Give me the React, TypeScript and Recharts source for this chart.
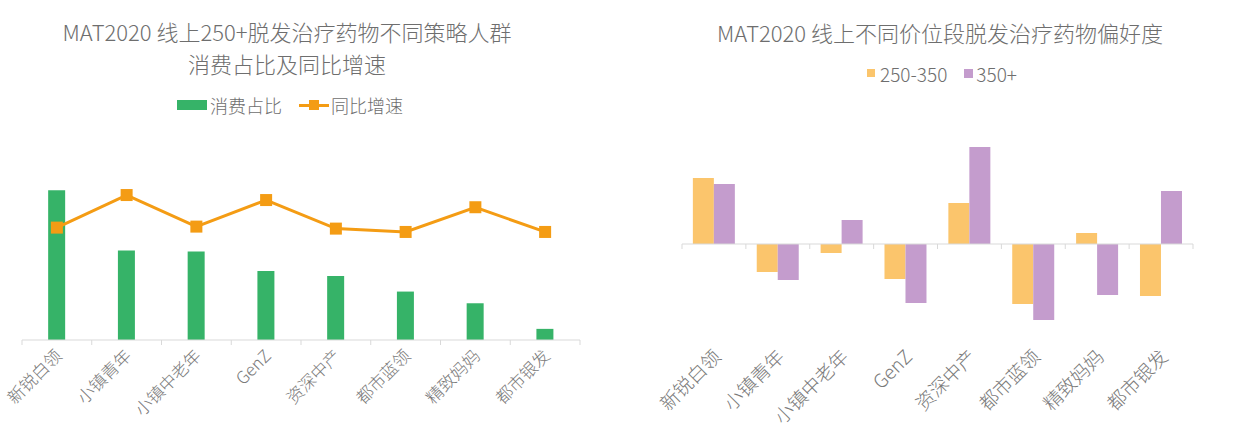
import React from "react";
import { ComposedChart, BarChart, Bar, Line, XAxis, YAxis, ReferenceLine } from "recharts";

const segments = ["新锐白领", "小镇青年", "小镇中老年", "GenZ", "资深中产", "都市蓝领", "精致妈妈", "都市银发"];
// left chart: share of spend (%) and YoY growth (%)
const spendShare = [26.9, 16.1, 15.9, 12.4, 11.5, 8.7, 6.6, 2.0];
const yoyGrowth = [67.3, 86.8, 67.9, 83.8, 66.7, 64.7, 79.5, 64.7];
// right chart: preference index by price band
const pref250to350 = [0.66, -0.28, -0.09, -0.35, 0.41, -0.6, 0.11, -0.52];
const pref350plus = [0.6, -0.36, 0.24, -0.59, 0.97, -0.76, -0.51, 0.53];

const FONT = "'Noto Sans CJK SC', 'Noto Sans', sans-serif";
const TEXT = "#6e6e6e";
const LABEL = "#7a7a7a";
const AXIS = "#d9d9d9";
const GREEN = "#36b368";
const ORANGE = "#f49c14";
const LIGHT_ORANGE = "#fbc56c";
const PURPLE = "#c49ccd";

const L_W = 600;
const L_H = 436;
const L_MARGIN = { top: 173, right: 20, bottom: 0, left: 22 };
const L_AXIS_H = 96;
const L_BAND = (L_W - L_MARGIN.left - L_MARGIN.right) / segments.length;

const R_W = 604;
const R_H = 436;
const R_MARGIN = { top: 124, right: 51, bottom: 0, left: 42 };
const R_AXIS_H = 92;
const R_BAND = (R_W - R_MARGIN.left - R_MARGIN.right) / segments.length;
const R_DOMAIN: [number, number] = [-1, 1.2];
const R_PLOT_H = R_H - R_MARGIN.top - R_MARGIN.bottom - R_AXIS_H;
const R_ZERO_UP = (R_PLOT_H * (0 - R_DOMAIN[0])) / (R_DOMAIN[1] - R_DOMAIN[0]);

const leftData = segments.map((name, i) => ({ name, share: spendShare[i], growth: yoyGrowth[i] }));
const rightData = segments.map((name, i) => ({ name, low: pref250to350[i], high: pref350plus[i] }));

interface TickProps {
  x?: number;
  y?: number;
  index?: number;
  payload?: { value: string };
  band: number;
  markUp: number;
  fontSize: number;
  dx: number;
  dy: number;
}

function SegmentTick({ x = 0, y = 0, index = 0, payload, band, markUp, fontSize, dx, dy }: TickProps) {
  const last = index === segments.length - 1;
  const my = y - markUp;
  const tx = x + dx;
  const ty = y + dy;
  return (
    <g>
      <line x1={x - band / 2} x2={x - band / 2} y1={my} y2={my + 5} stroke={AXIS} />
      {last && <line x1={x + band / 2} x2={x + band / 2} y1={my} y2={my + 5} stroke={AXIS} />}
      <text
        x={tx}
        y={ty}
        transform={`rotate(-45 ${tx} ${ty})`}
        textAnchor="end"
        fontSize={fontSize}
        fontFamily={FONT}
        fontWeight={300}
        fill={LABEL}
      >
        {payload?.value}
      </text>
    </g>
  );
}

function SquareDot(props: { cx?: number; cy?: number; index?: number }) {
  const { cx = 0, cy = 0, index } = props;
  return <rect key={`dot-${index}`} x={cx - 6} y={cy - 6} width={12} height={12} fill={ORANGE} />;
}

const titleStyle: React.CSSProperties = {
  position: "absolute",
  textAlign: "center",
  fontFamily: FONT,
  fontSize: 22,
  fontWeight: 300,
  lineHeight: "32px",
  color: TEXT,
};

const legendRow: React.CSSProperties = {
  position: "absolute",
  display: "flex",
  alignItems: "center",
  justifyContent: "center",
  height: 24,
  fontFamily: FONT,
  fontSize: 18,
  fontWeight: 300,
  color: TEXT,
};

export default function App() {
  return (
    <div style={{ position: "absolute", left: 0, top: 0, width: 1244, height: 436, background: "#fff", overflow: "hidden" }}>
      {/* left: spend share + growth */}
      <div style={{ position: "absolute", left: 0, top: 0, width: L_W, height: L_H }}>
        <ComposedChart width={L_W} height={L_H} data={leftData} margin={L_MARGIN} barCategoryGap="37.5%">
          <XAxis
            dataKey="name"
            height={L_AXIS_H}
            interval={0}
            tickSize={0}
            tickMargin={0}
            tickLine={false}
            axisLine={{ stroke: AXIS }}
            tick={(p: any) => <SegmentTick {...p} band={L_BAND} markUp={0} fontSize={17} dx={6} dy={17} />}
          />
          <YAxis yAxisId="share" hide domain={[0, 30]} />
          <YAxis yAxisId="growth" hide orientation="right" domain={[0, 100]} />
          <Bar yAxisId="share" dataKey="share" fill={GREEN} isAnimationActive={false} />
          <Line
            yAxisId="growth"
            dataKey="growth"
            stroke={ORANGE}
            strokeWidth={3}
            dot={<SquareDot />}
            activeDot={false}
            isAnimationActive={false}
          />
        </ComposedChart>
        <div style={{ ...titleStyle, left: 0, top: 15, width: 574 }}>
          MAT2020 线上250+脱发治疗药物不同策略人群
          <br />
          消费占比及同比增速
        </div>
        <div style={{ ...legendRow, left: 0, top: 93, width: 580 }}>
          <span style={{ width: 30, height: 10, background: GREEN, marginRight: 3 }} />
          <span>消费占比</span>
          <span style={{ position: "relative", width: 30, height: 10, marginLeft: 17, marginRight: 2 }}>
            <span style={{ position: "absolute", left: 0, right: 0, top: 3.5, height: 3, background: ORANGE }} />
            <span style={{ position: "absolute", left: 10, top: 0, width: 10, height: 10, background: ORANGE }} />
          </span>
          <span>同比增速</span>
        </div>
      </div>

      {/* right: preference by price band */}
      <div style={{ position: "absolute", left: 640, top: 0, width: R_W, height: R_H }}>
        <BarChart width={R_W} height={R_H} data={rightData} margin={R_MARGIN} barCategoryGap="17%" barGap={0}>
          <XAxis
            dataKey="name"
            height={R_AXIS_H}
            interval={0}
            tickSize={0}
            tickMargin={0}
            tickLine={false}
            axisLine={false}
            tick={(p: any) => <SegmentTick {...p} band={R_BAND} markUp={R_ZERO_UP} fontSize={19} dx={8} dy={14} />}
          />
          <YAxis hide domain={R_DOMAIN} />
          <ReferenceLine y={0} stroke={AXIS} strokeWidth={1} />
          <Bar dataKey="low" fill={LIGHT_ORANGE} isAnimationActive={false} />
          <Bar dataKey="high" fill={PURPLE} isAnimationActive={false} />
        </BarChart>
        <div style={{ ...titleStyle, left: 0, top: 16, width: 600 }}>MAT2020 线上不同价位段脱发治疗药物偏好度</div>
        <div style={{ ...legendRow, left: 0, top: 61, width: 604, fontSize: 19 }}>
          <span style={{ width: 8, height: 8, background: LIGHT_ORANGE, marginRight: 5 }} />
          <span>250-350</span>
          <span style={{ width: 9, height: 9, background: PURPLE, marginLeft: 17, marginRight: 3 }} />
          <span>350+</span>
        </div>
      </div>
    </div>
  );
}
